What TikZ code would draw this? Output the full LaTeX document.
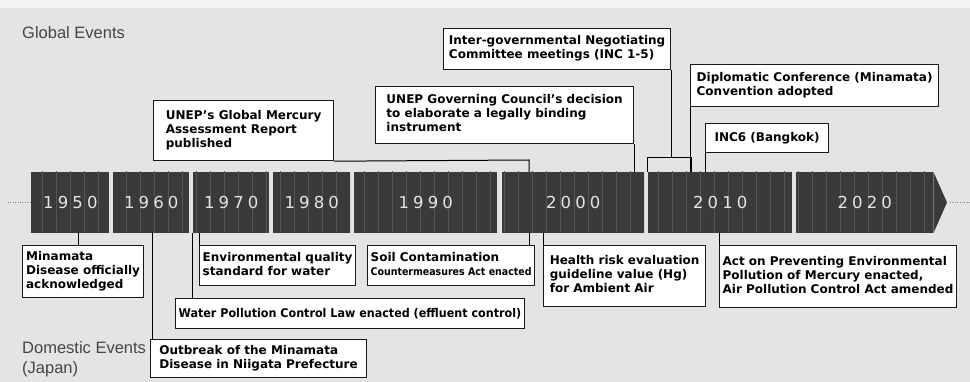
\documentclass[tikz,border=0pt]{standalone}
\usepackage{fontspec}
\setmainfont{DejaVu Sans}
\newfontfamily\yearfont[LetterSpace=25]{DejaVu Sans}
\newfontfamily\lblfont{Liberation Sans}
\usetikzlibrary{patterns.meta}
\definecolor{bargray}{HTML}{3A3A3A}
\definecolor{stripe}{HTML}{555555}
\definecolor{paper}{HTML}{E4E4E4}
\definecolor{labelgray}{HTML}{454545}
\newcommand{\evt}[1]{\begin{tabular}{@{}l@{}}#1\end{tabular}}
\newcommand{\narrow}[1]{{\addfontfeatures{FakeStretch=0.9}\fontsize{10.5}{12}\selectfont #1}}

\begin{document}
\begin{tikzpicture}[x=1pt,y=-1pt,
  seg/.style={minimum height=61pt,anchor=west,inner sep=0pt,preaction={fill=bargray},
    pattern={Lines[angle=90,distance=14pt,line width=.7pt]},pattern color=stripe,
    text=black!10,font=\yearfont\fontsize{16.5}{18}\selectfont},
  evt/.style={draw=black!90,line width=1.2pt,fill=white,anchor=north west,inner sep=3pt,
    font=\bfseries\fontsize{12}{14}\selectfont},
  lbl/.style={anchor=north west,inner sep=0pt,align=left,text=labelgray,
    font=\lblfont\fontsize{16.5}{20}\selectfont},
  link/.style={draw,line width=1pt}]
\fill[paper] (0,0) rectangle (970,382);
\fill[black!4] (0,0) rectangle (970,8);
\useasboundingbox (0,0) rectangle (970,382);

\node[lbl](glob) at (22,26){Global Events};
\node[lbl](dom) at (22,341){Domestic Events\\(Japan)};

% decades
\foreach \yr/\x/\w in {1950/31/78,1960/113/76,1970/193/76,1980/273/77,
    1990/354/143,2000/502/142,2010/648/144,2020/796/137}
  \node[seg,minimum width=\w pt](s\yr) at (\x,202.5){\yr};
\coordinate (tip) at (947,202.5);
\fill[bargray] (s2020.north east) -- (tip) -- (s2020.south east) -- cycle;
\coordinate (l0) at (8,202.5);
\coordinate (r0) at (970,202.5);
\draw[dotted,gray] (l0) -- (s1950.west);
\draw[dotted,gray,shorten <=3pt] (tip) -- (r0);

% global events
\node[evt,minimum width=180pt,minimum height=60pt](gmar) at (153,100){\evt{UNEP's Global Mercury\\Assessment Report\\published}};
\node[evt,minimum width=258pt,minimum height=57pt](ungc) at (375,86){\evt{UNEP Governing Council's decision\\to elaborate a legally binding\\instrument}};
\node[evt,minimum width=227pt,minimum height=41pt](inc) at (443,28){\evt{Inter-governmental Negotiating\\Committee meetings (INC 1-5)}};
\node[evt,minimum width=248pt,minimum height=42pt](dipc) at (690,64){\evt{Diplomatic Conference (Minamata)\\Convention adopted}};
\node[evt,minimum width=123pt,minimum height=29pt](inc6) at (705,123){INC6 (Bangkok)};

\coordinate (g2002) at (529,160);
\coordinate (b2010) at (647,158);
\coordinate (b2013) at (691,158);
\draw[link] (gmar.south east) -- (g2002) -- (g2002|-s2000.north);
\draw[link] (ungc.south east) -- (ungc.south east|-s2000.north);
\draw[link] (inc.south east) -- (inc.south east|-b2010);
\draw[link] (b2010|-s2010.north) -- (b2010) -- (b2013) -- (b2013|-s2010.north);
\draw[link] (dipc.south west) -- (dipc.south west|-s2010.north);
\draw[link] (inc6.south west) -- (inc6.south west|-s2010.north);

% domestic events
\node[evt,minimum width=121pt,minimum height=52pt](mdoa) at (22,245){\evt{Minamata\\Disease officially\\acknowledged}};
\node[evt,minimum width=156pt,minimum height=40pt](eqsw) at (199,245){\evt{Environmental quality\\standard for water}};
\node[evt,minimum width=167pt,minimum height=40pt](soil) at (367,245){\evt{Soil Contamination\\\narrow{Countermeasures Act enacted}}};
\node[evt,minimum width=162pt,minimum height=61pt](hrev) at (543,245){\evt{Health risk evaluation\\guideline value (Hg)\\for Ambient Air}};
\node[evt,minimum width=228pt,minimum height=62pt](apem) at (719,245){\evt{Act on Preventing Environmental\\Pollution of Mercury enacted,\\Air Pollution Control Act amended}};
\node[evt,minimum width=347pt,minimum height=30pt,
  font=\bfseries\addfontfeatures{FakeStretch=0.93}\fontsize{12}{14}\selectfont](wpcl) at (175,298){Water Pollution Control Law enacted (effluent control)};
\node[evt,minimum width=216pt,minimum height=38pt](niig) at (150,339){\evt{Outbreak of the Minamata\\Disease in Niigata Prefecture}};

\coordinate (d1956) at (78,0);
\coordinate (d1965) at (152,0);
\coordinate (d1970) at (192,0);
\coordinate (d2002) at (529,0);
\draw[link] (d1956|-s1950.south) -- (d1956|-mdoa.north);
\draw[link] (d1965|-s1960.south) -- (d1965|-niig.north);
\draw[link] (d1970|-s1970.south) -- (d1970|-wpcl.north);
\draw[link] (eqsw.north west|-s1970.south) -- (eqsw.north west);
\draw[link] (d2002|-s2000.south) -- (d2002|-soil.north);
\draw[link] (hrev.north west|-s2000.south) -- (hrev.north west);
\draw[link] (apem.north west|-s2010.south) -- (apem.north west);
\end{tikzpicture}
\end{document}
